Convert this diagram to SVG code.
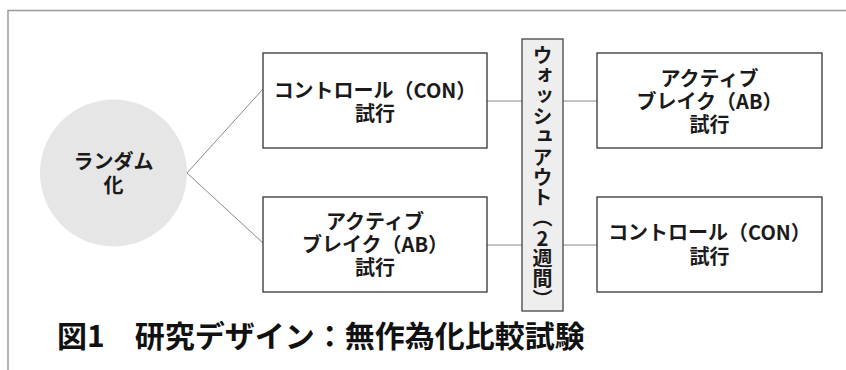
<svg xmlns="http://www.w3.org/2000/svg" width="846" height="370" viewBox="0 0 846 370">
  <style>
    .box { fill: #ffffff; stroke: #333333; stroke-width: 1.3; }
    .wash { fill: #eeeeee; stroke: #444444; stroke-width: 1.3; }
    .edge { fill: none; stroke: #8a8a8a; stroke-width: 1; }
    .frame { fill: none; stroke: #9a9a9a; stroke-width: 1.5; }
    .t { font-family: "Noto Sans CJK JP", "Noto Sans", sans-serif; font-size: 20px; font-weight: 700; fill: #1a1a1a; text-anchor: middle; }
    .cap { font-family: "Noto Sans CJK JP", "Noto Sans", sans-serif; font-size: 30px; font-weight: 700; fill: #111111; }
    .vt { font-family: "Noto Sans CJK JP", sans-serif; font-size: 20px; font-weight: 700; fill: #1a1a1a; writing-mode: vertical-rl; text-orientation: upright; letter-spacing: 0.3px; }
  </style>
  <rect width="846" height="370" fill="#ffffff"/>
  <path class="frame" d="M8,370 V10.5 H846"/>

  <g id="connectors">
    <line class="edge" x1="187" y1="173" x2="263" y2="89"/>
    <line class="edge" x1="187" y1="173" x2="263" y2="243"/>
    <line class="edge" x1="487" y1="101" x2="522" y2="101"/>
    <line class="edge" x1="563" y1="101" x2="597" y2="101"/>
    <line class="edge" x1="487" y1="245" x2="522" y2="245"/>
    <line class="edge" x1="563" y1="245" x2="597" y2="245"/>
  </g>

  <g id="randomize">
    <circle cx="113.5" cy="173" r="73.5" fill="#e6e6e6"/>
    <text class="t" x="113.5" y="168.5">ランダム</text>
    <text class="t" x="113.5" y="192.5">化</text>
  </g>

  <g id="con1">
    <rect class="box" x="263" y="53" width="224" height="95"/>
    <text class="t" x="375" y="98">コントロール（CON）</text>
    <text class="t" x="375" y="121">試行</text>
  </g>

  <g id="ab1">
    <rect class="box" x="263" y="197" width="224" height="95"/>
    <text class="t" x="375" y="229">アクティブ</text>
    <text class="t" x="375" y="252">ブレイク（AB）</text>
    <text class="t" x="375" y="275">試行</text>
  </g>

  <g id="washout">
    <rect class="wash" x="522" y="39" width="41" height="272"/>
    <text class="vt" x="542.5" y="45.5">ウォッシュアウト（2週間）</text>
  </g>

  <g id="ab2">
    <rect class="box" x="597" y="53" width="225" height="95"/>
    <text class="t" x="709.5" y="86">アクティブ</text>
    <text class="t" x="709.5" y="109">ブレイク（AB）</text>
    <text class="t" x="709.5" y="132">試行</text>
  </g>

  <g id="con2">
    <rect class="box" x="597" y="197" width="225" height="95"/>
    <text class="t" x="709.5" y="240">コントロール（CON）</text>
    <text class="t" x="709.5" y="264">試行</text>
  </g>

  <g id="caption">
    <text class="cap" x="57" y="347">図1　研究デザイン：無作為化比較試験</text>
  </g>
</svg>
